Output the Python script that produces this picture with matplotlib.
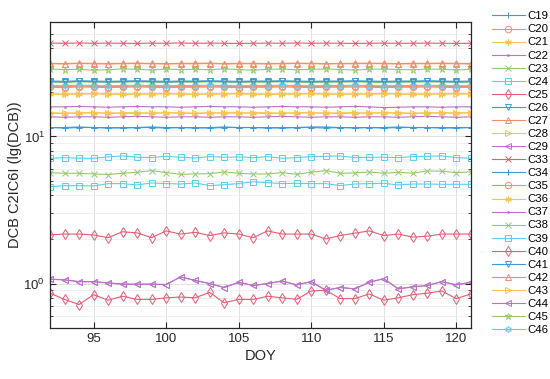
import numpy as np
import matplotlib
matplotlib.use("Agg")
import matplotlib.pyplot as plt

plt.rcParams['font.family'] = ['Liberation Sans', 'DejaVu Sans']

# day of year
doy = list(range(92, 122))

# series (log-scale DCB values)
c19 = [11.5, 11.5, 11.6, 11.5, 11.5, 11.4, 11.5, 11.6, 11.5, 11.5, 11.4, 11.5, 11.6, 11.5, 11.5,
       11.5, 11.4, 11.5, 11.6, 11.6, 11.5, 11.4, 11.5, 11.5, 11.6, 11.5, 11.5, 11.5, 11.4, 11.5]
c20 = [21.6, 21.5, 21.7, 21.6, 21.5, 21.6, 21.7, 21.6, 21.5, 21.6, 21.6, 21.7, 21.6, 21.5, 21.6,
       21.6, 21.7, 21.6, 21.5, 21.6, 21.6, 21.7, 21.6, 21.5, 21.6, 21.6, 21.7, 21.6, 21.5, 21.6]
c21 = [19.5, 19.4, 19.5, 19.6, 19.5, 19.4, 19.5, 19.5, 19.6, 19.5, 19.4, 19.5, 19.5, 19.6, 19.5,
       19.4, 19.5, 19.5, 19.6, 19.5, 19.4, 19.5, 19.5, 19.6, 19.5, 19.4, 19.5, 19.5, 19.6, 19.5]
c22 = [15.9, 15.9, 16.0, 15.9, 15.8, 15.9, 16.0, 15.9, 15.9, 15.8, 15.9, 16.0, 15.9, 15.9, 15.8,
       15.9, 16.0, 15.9, 15.9, 15.8, 15.9, 16.0, 15.9, 15.7, 15.8, 15.9, 15.9, 15.8, 15.9, 15.9]
c23 = [23.4, 23.3, 23.5, 23.4, 23.3, 23.4, 23.5, 23.4, 23.3, 23.4, 23.4, 23.5, 23.4, 23.3, 23.4,
       23.4, 23.5, 23.4, 23.3, 23.4, 23.4, 23.5, 23.4, 23.3, 23.4, 23.4, 23.5, 23.4, 23.3, 23.4]
c24 = [7.10, 7.18, 7.11, 7.11, 7.26, 7.37, 7.22, 7.18, 7.33, 7.22, 7.14, 7.29, 7.22, 7.26, 7.18,
       7.29, 7.11, 7.18, 7.29, 7.33, 7.37, 7.18, 7.22, 7.22, 7.18, 7.29, 7.33, 7.37, 7.18, 7.11]
c25 = [2.14, 2.17, 2.17, 2.14, 2.05, 2.25, 2.21, 2.05, 2.28, 2.17, 2.23, 2.12, 2.21, 2.17, 2.05,
       2.28, 2.17, 2.17, 2.17, 2.01, 2.12, 2.20, 2.28, 2.12, 2.17, 2.07, 2.10, 2.17, 2.17, 2.17]
c26 = [23.8, 23.7, 23.9, 23.8, 23.7, 23.8, 23.9, 23.8, 23.7, 23.8, 23.8, 23.9, 23.8, 23.7, 23.8,
       23.8, 23.9, 23.8, 23.7, 23.8, 23.8, 23.9, 23.8, 23.7, 23.8, 23.8, 23.9, 23.8, 23.7, 23.8]
c27 = [31.4, 31.3, 31.5, 31.4, 31.3, 31.4, 31.5, 31.4, 31.3, 31.4, 31.4, 31.5, 31.3, 31.4, 31.4,
       31.3, 31.4, 31.5, 31.4, 31.3, 31.4, 31.4, 31.5, 31.4, 31.3, 31.4, 31.4, 31.5, 31.4, 31.3]
c28 = [19.4, 19.3, 19.4, 19.5, 19.4, 19.3, 19.4, 19.4, 19.5, 19.4, 19.3, 19.4, 19.4, 19.5, 19.4,
       19.3, 19.4, 19.4, 19.5, 19.4, 19.3, 19.4, 19.4, 19.5, 19.4, 19.3, 19.4, 19.4, 19.5, 19.4]
c29 = [1.07, 1.06, 1.03, 1.03, 1.01, 0.99, 0.99, 0.99, 0.985, 1.11, 1.05, 1.00, 0.94, 1.02, 0.97,
       1.00, 1.04, 0.98, 1.03, 0.90, 0.94, 0.92, 1.02, 1.08, 0.92, 0.95, 0.97, 1.03, 0.98, 1.02]
c33 = [43.1, 43.0, 43.2, 43.0, 43.1, 43.0, 42.9, 43.1, 43.0, 43.2, 43.0, 43.1, 43.0, 42.9, 43.0,
       43.1, 43.0, 43.2, 43.0, 43.1, 43.0, 42.9, 43.0, 43.1, 43.0, 43.0, 43.1, 43.0, 42.9, 43.0]
c34 = [11.5, 11.4, 11.5, 11.5, 11.4, 11.5, 11.5, 11.5, 11.4, 11.5, 11.5, 11.4, 11.5, 11.5, 11.5,
       11.4, 11.5, 11.5, 11.5, 11.4, 11.5, 11.5, 11.5, 11.4, 11.5, 11.5, 11.5, 11.4, 11.5, 11.5]
c35 = [21.9, 21.8, 22.0, 21.9, 21.8, 21.9, 22.0, 21.9, 21.8, 21.9, 21.9, 22.0, 21.9, 21.8, 21.9,
       21.9, 22.0, 21.9, 21.8, 21.9, 21.9, 22.0, 21.9, 21.8, 21.9, 21.9, 22.0, 21.9, 21.8, 21.9]
c36 = [14.4, 14.3, 14.4, 14.5, 14.4, 14.3, 14.4, 14.4, 14.5, 14.4, 14.3, 14.4, 14.4, 14.5, 14.4,
       14.3, 14.4, 14.4, 14.5, 14.4, 14.3, 14.4, 14.4, 14.5, 14.4, 14.3, 14.4, 14.4, 14.5, 14.4]
c37 = [13.6, 13.5, 13.6, 13.6, 13.5, 13.6, 13.7, 13.6, 13.5, 13.6, 13.6, 13.5, 13.6, 13.6, 13.5,
       13.6, 13.7, 13.6, 13.5, 13.6, 13.6, 13.5, 13.6, 13.6, 13.5, 13.6, 13.7, 13.6, 13.5, 13.6]
c38 = [5.67, 5.62, 5.62, 5.56, 5.51, 5.62, 5.71, 5.86, 5.68, 5.53, 5.56, 5.59, 5.74, 5.62, 5.56,
       5.56, 5.68, 5.53, 5.71, 5.86, 5.62, 5.65, 5.74, 5.62, 5.71, 5.62, 5.83, 5.80, 5.68, 5.74]
c39 = [4.56, 4.63, 4.63, 4.61, 4.78, 4.78, 4.68, 4.83, 4.78, 4.75, 4.83, 4.63, 4.70, 4.78, 4.92,
       4.85, 4.78, 4.80, 4.78, 4.78, 4.63, 4.75, 4.78, 4.80, 4.68, 4.75, 4.75, 4.73, 4.73, 4.73]
c40 = [0.86, 0.78, 0.72, 0.84, 0.77, 0.82, 0.78, 0.78, 0.80, 0.81, 0.80, 0.87, 0.74, 0.78, 0.78,
       0.82, 0.80, 0.78, 0.89, 0.90, 0.79, 0.79, 0.85, 0.77, 0.80, 0.84, 0.86, 0.89, 0.79, 0.85]
c41 = [23.6, 23.5, 23.7, 23.6, 23.5, 23.6, 23.7, 23.6, 23.5, 23.6, 23.6, 23.7, 23.6, 23.5, 23.6,
       23.6, 23.7, 23.6, 23.5, 23.6, 23.6, 23.7, 23.6, 23.5, 23.6, 23.6, 23.7, 23.6, 23.5, 23.6]
c42 = [31.2, 31.1, 31.3, 31.2, 31.1, 31.2, 31.3, 31.2, 31.1, 31.2, 31.2, 31.3, 31.1, 31.2, 31.2,
       31.1, 31.2, 31.3, 31.2, 31.1, 31.2, 31.2, 31.3, 31.2, 31.1, 31.2, 31.2, 31.3, 31.2, 31.1]
c43 = [14.5, 14.4, 14.5, 14.5, 14.4, 14.5, 14.5, 14.4, 14.5, 14.5, 14.4, 14.5, 14.5, 14.4, 14.5,
       14.5, 14.4, 14.5, 14.5, 14.4, 14.5, 14.5, 14.4, 14.5, 14.5, 14.4, 14.5, 14.5, 14.4, 14.5]
c44 = c29
c45 = [28.7, 28.5, 28.6, 28.2, 28.4, 28.8, 28.6, 28.3, 28.7, 28.5, 28.6, 28.4, 28.8, 28.5, 28.2,
       28.6, 28.7, 28.4, 28.6, 28.8, 28.5, 28.3, 28.6, 28.7, 28.5, 28.4, 28.7, 28.6, 28.3, 28.6]
c46 = [22.2, 22.1, 22.3, 22.2, 22.1, 22.2, 22.3, 22.2, 22.1, 22.2, 22.2, 22.3, 22.2, 22.1, 22.2,
       22.2, 22.3, 22.2, 22.1, 22.2, 22.2, 22.3, 22.2, 22.1, 22.2, 22.2, 22.3, 22.2, 22.1, 22.2]

names = ['C19', 'C20', 'C21', 'C22', 'C23', 'C24', 'C25', 'C26', 'C27', 'C28', 'C29', 'C33', 'C34',
         'C35', 'C36', 'C37', 'C38', 'C39', 'C40', 'C41', 'C42', 'C43', 'C44', 'C45', 'C46']
series = [c19, c20, c21, c22, c23, c24, c25, c26, c27, c28, c29, c33, c34,
          c35, c36, c37, c38, c39, c40, c41, c42, c43, c44, c45, c46]

# styles (MATLAB-like cycle, lightened)
blue, orange, yellow, purple = '#3a9bd8', '#f48d6c', '#f8c450', '#bb72c9'
green, cyan, red = '#96ca6c', '#5ccdf0', '#e65c75'
asterisk = (6, 2, 0)
hexagram = (6, 1, 0)
styles = [(blue, '+'), (orange, 'o'), (yellow, asterisk), (purple, '.'), (green, 'x'),
          (cyan, 's'), (red, 'd'), (blue, 'v'), (orange, '^'), (yellow, '>'), (purple, '<'),
          (red, 'x'), (blue, '+'), (orange, 'o'), (yellow, asterisk), (purple, '.'),
          (green, 'x'), (cyan, 's'), (red, 'd'), (blue, 'v'), (orange, '^'), (yellow, '>'),
          (purple, '<'), (green, '*'), (cyan, hexagram)]

fig = plt.figure(figsize=(5.5, 3.79), dpi=100)
ax = fig.add_axes([0.091, 0.135, 0.765, 0.807])

for name, vals, (col, mk) in zip(names, series, styles):
    ms = 2.5 if mk == '.' else 4.6
    ax.plot(doy, vals, color=col, marker=mk, markersize=ms, markerfacecolor='none',
            markeredgecolor=col, markeredgewidth=0.7, linewidth=0.8, label=name)

ax.set_yscale('log')
ax.set_xlim(92, 121)
ax.set_ylim(0.5, 60)
ax.set_xticks([95, 100, 105, 110, 115, 120])
ax.grid(True, which='major', color='#dcdcdc', linewidth=0.6)
ax.grid(True, which='minor', axis='y', color='#ececec', linewidth=0.5)
ax.set_axisbelow(True)
ax.tick_params(which='both', direction='in', top=True, right=True, labelsize=9.5,
               colors='#262626')
ax.tick_params(which='major', length=4)
ax.tick_params(which='minor', length=2.5)
for s in ax.spines.values():
    s.set_color('#262626')
    s.set_linewidth(0.9)

ax.set_xlabel('DOY', fontsize=10.5, color='#262626', labelpad=3)
ax.set_ylabel('DCB C2IC6I (lg(DCB))', fontsize=10.5, color='#262626', labelpad=1)

ax.legend(loc='upper left', bbox_to_anchor=(1.05, 1.035), frameon=False, fontsize=8.2,
          handlelength=2.9, handleheight=0.6, labelspacing=0.27, handletextpad=0.25,
          borderaxespad=0, borderpad=0)

fig.savefig('out.png', dpi=100)
